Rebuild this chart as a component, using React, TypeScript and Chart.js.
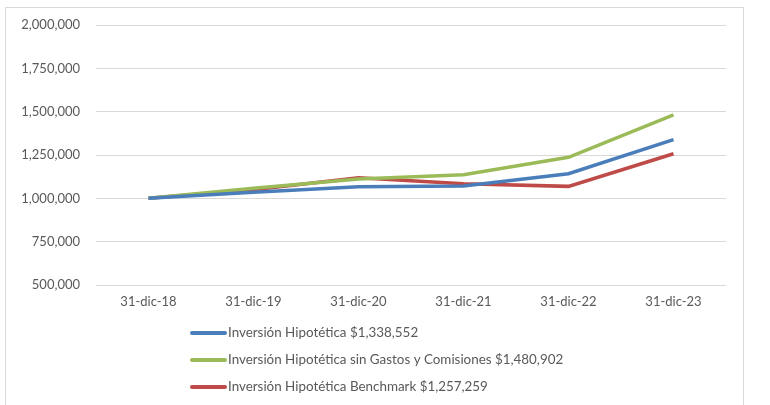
import React, { useEffect, useRef } from "react";
import { Chart, registerables } from "chart.js";

Chart.register(...registerables);

const categories = ["31-dic-18", "31-dic-19", "31-dic-20", "31-dic-21", "31-dic-22", "31-dic-23"];
const inversion = [1000000, 1035000, 1067000, 1071000, 1142000, 1338552];
const sinGastos = [1000000, 1058000, 1111000, 1136000, 1237000, 1480902];
const benchmark = [1000000, 1050000, 1119000, 1084000, 1069000, 1257259];
const seriesLabels = [
  "Inversión Hipotética $1,338,552",
  "Inversión Hipotética sin Gastos y Comisiones $1,480,902",
  "Inversión Hipotética Benchmark $1,257,259",
];
const seriesColors = ["#4A7EBB", "#9BBB59", "#BE4B48"];
const yMin = 500000;
const yMax = 2000000;
const yStep = 250000;

const FONT = "Lato, 'Open Sans', sans-serif";

const borderPlugin = {
  id: "outerBorder",
  beforeDraw(chart: any) {
    const ctx = chart.ctx;
    ctx.save();
    ctx.fillStyle = "#ffffff";
    ctx.fillRect(0, 0, chart.width, chart.height);
    ctx.strokeStyle = "#D9D9D9";
    ctx.lineWidth = 1;
    ctx.strokeRect(5.5, 7.5, 738, 500);
    ctx.restore();
  },
};

const legendPlugin = {
  id: "vertLegend",
  afterDraw(chart: any) {
    const ctx = chart.ctx;
    ctx.save();
    const x0 = 192;
    const x1 = 225;
    const startY = 333;
    const gap = 27;
    chart.data.datasets.forEach((ds: any, i: number) => {
      const y = startY + i * gap;
      ctx.strokeStyle = ds.borderColor;
      ctx.lineWidth = 4;
      ctx.lineCap = "round";
      ctx.beginPath();
      ctx.moveTo(x0, y);
      ctx.lineTo(x1, y);
      ctx.stroke();
      ctx.fillStyle = "#595959";
      ctx.font = `13.4px ${FONT}`;
      ctx.textBaseline = "middle";
      ctx.textAlign = "left";
      ctx.fillText(ds.label, x1 + 3, y);
    });
    ctx.restore();
  },
};

export default function App() {
  const ref = useRef<HTMLCanvasElement | null>(null);
  useEffect(() => {
    if (!ref.current) return;
    const data = [inversion, sinGastos, benchmark];
    const chart = new Chart(ref.current, {
      type: "line",
      data: {
        labels: categories,
        datasets: data.map((d, i) => ({
          label: seriesLabels[i],
          data: d,
          borderColor: seriesColors[i],
          backgroundColor: seriesColors[i],
          borderWidth: 3.5,
          pointRadius: 0,
          tension: 0,
          fill: false,
        })),
      },
      options: {
        animation: false,
        responsive: false,
        devicePixelRatio: 1,
        layout: { padding: { left: 0, right: 44, top: 25, bottom: 90 } },
        plugins: {
          legend: { display: false },
          tooltip: { enabled: false },
        },
        scales: {
          x: {
            offset: true,
            grid: { display: false },
            border: { display: false },
            ticks: {
              color: "#595959",
              font: { family: FONT, size: 13 },
              padding: 1,
              maxRotation: 0,
            },
            afterFit(scale: any) {
              scale.height = 30;
            },
          },
          y: {
            min: yMin,
            max: yMax,
            grid: { color: "#D9D9D9", lineWidth: 1, drawTicks: false },
            border: { display: false },
            ticks: {
              stepSize: yStep,
              color: "#595959",
              font: { family: FONT, size: 13 },
              padding: 16,
              callback: (v: any) => Number(v).toLocaleString("en-US"),
            },
            afterFit(scale: any) {
              scale.width = 96;
            },
          },
        },
      },
      plugins: [borderPlugin, legendPlugin],
    });
    return () => chart.destroy();
  }, []);
  return (
    <div style={{ position: "absolute", left: 0, top: 0, width: 770, height: 405 }}>
      <canvas ref={ref} width={770} height={405} style={{ display: "block" }} />
    </div>
  );
}
